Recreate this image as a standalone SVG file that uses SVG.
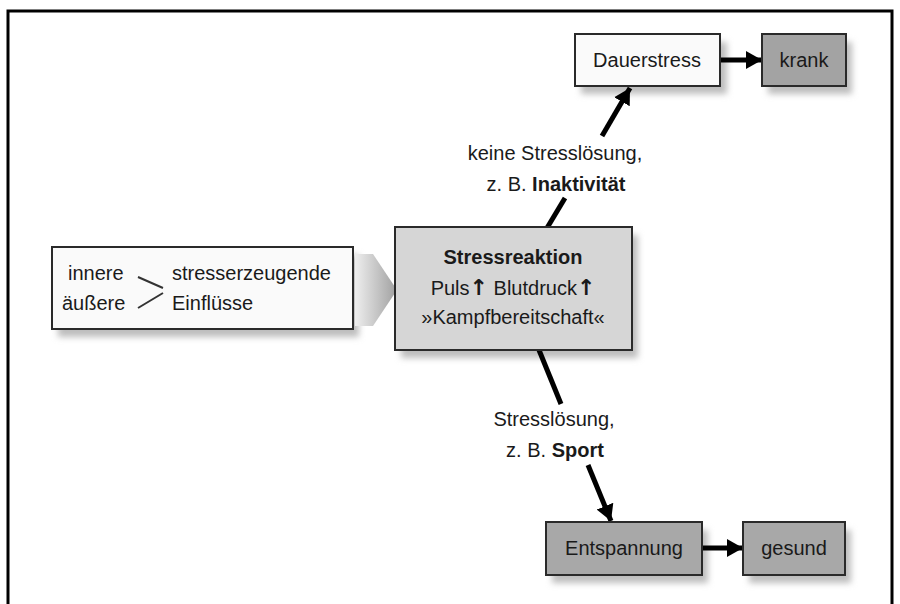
<svg xmlns="http://www.w3.org/2000/svg" width="900" height="604" viewBox="0 0 900 604">
<style>
text{font-family:"Liberation Sans",Arial,sans-serif;fill:#1a1a1a;font-size:20px}
.c{text-anchor:middle}
.b{font-weight:bold}
.box{stroke:#2a2a2a;stroke-width:2}
.line{stroke:#000;stroke-width:5;fill:none;stroke-linecap:butt}
.sh{fill:#bdbdbd;filter:url(#blur)}
.ar{font-family:"DejaVu Sans",sans-serif;font-weight:bold;font-size:22px}
</style>
<defs>
<filter id="blur" x="-20%" y="-20%" width="140%" height="140%"><feGaussianBlur stdDeviation="3"/></filter>
<linearGradient id="g" x1="0" x2="1" y1="0" y2="0"><stop offset="0" stop-color="#eeeeee"/><stop offset="1" stop-color="#a0a0a0"/></linearGradient>
<marker id="ah" markerWidth="4" markerHeight="4" refX="3.2" refY="2" orient="auto" markerUnits="strokeWidth"><path d="M0,0.2 L3.2,2 L0,3.8 z" fill="#000"/></marker>
</defs>
<rect width="900" height="604" fill="#fff"/>
<path d="M8,604 V11 H892 V604" fill="none" stroke="#000" stroke-width="3"/>

<g id="shadows">
<rect class="sh" x="581" y="42" width="146" height="52"/>
<rect class="sh" x="768" y="42" width="84" height="52"/>
<rect class="sh" x="58" y="255" width="301" height="82"/>
<rect class="sh" x="401" y="235" width="237" height="123"/>
<rect class="sh" x="552" y="530" width="156" height="53"/>
<rect class="sh" x="749" y="530" width="102" height="53"/>
</g>

<g id="connectors">
<line class="line" x1="720" y1="60" x2="762" y2="60" marker-end="url(#ah)"/>
<line class="line" x1="702" y1="548" x2="743" y2="548" marker-end="url(#ah)"/>
<line class="line" x1="547" y1="228" x2="565" y2="198"/>
<line class="line" x1="602" y1="136" x2="630" y2="88" marker-end="url(#ah)"/>
<line class="line" x1="539" y1="350" x2="561" y2="404"/>
<line class="line" x1="588" y1="465" x2="611" y2="521" marker-end="url(#ah)"/>
<polygon points="355,254 373,254 397,290 373,326 355,326" fill="url(#g)"/>
</g>

<g id="einfluesse">
<rect class="box" x="52" y="247" width="301" height="82" fill="#fafafa"/>
<text x="68" y="280">innere</text>
<text x="62" y="310">äußere</text>
<text x="172" y="280">stresserzeugende</text>
<text x="172" y="310">Einflüsse</text>
<path d="M138,277 L163,288 M138,308 L163,293" stroke="#333" stroke-width="2" fill="none"/>
</g>

<g id="stressreaktion">
<rect class="box" x="395" y="227" width="237" height="123" fill="#d6d6d6"/>
<text class="c b" x="513" y="264">Stressreaktion</text>
<text class="c" x="513" y="295">Puls<tspan class="ar">↑</tspan>  Blutdruck<tspan class="ar">↑</tspan></text>
<text class="c" x="513" y="324">»Kampfbereitschaft«</text>
</g>

<g id="dauerstress">
<rect class="box" x="575" y="34" width="145" height="52" fill="#fafafa"/>
<text class="c" x="647" y="67">Dauerstress</text>
</g>

<g id="krank">
<rect class="box" x="762" y="34" width="84" height="52" fill="#a3a3a3"/>
<text class="c" x="804" y="67">krank</text>
</g>

<g id="entspannung">
<rect class="box" x="546" y="522" width="156" height="53" fill="#a8a8a8"/>
<text class="c" x="624" y="555">Entspannung</text>
</g>

<g id="gesund">
<rect class="box" x="743" y="522" width="102" height="53" fill="#a8a8a8"/>
<text class="c" x="794" y="555">gesund</text>
</g>

<g id="labels">
<text class="c" x="555" y="160">keine Stresslösung,</text>
<text class="c" x="556" y="191">z. B. <tspan class="b">Inaktivität</tspan></text>
<text class="c" x="554" y="426">Stresslösung,</text>
<text class="c" x="555" y="457">z. B. <tspan class="b">Sport</tspan></text>
</g>
</svg>
